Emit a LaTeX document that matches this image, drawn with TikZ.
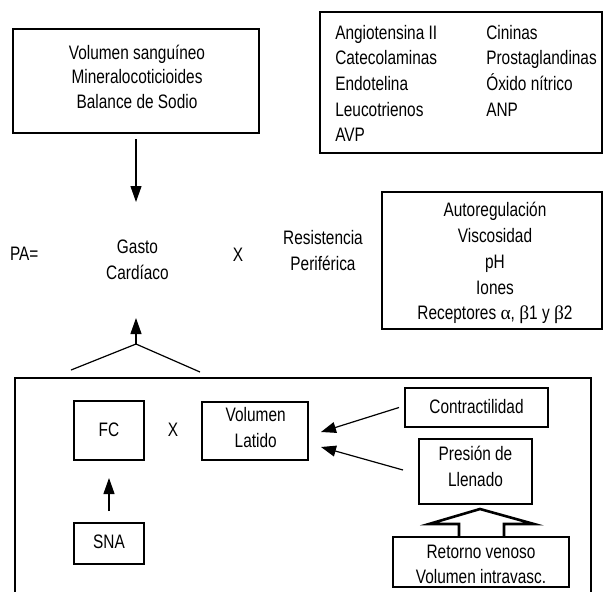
\documentclass[tikz,border=0pt]{standalone}
\usepackage{fontspec}
\setmainfont{Liberation Sans}[FakeStretch=0.79]
\newfontfamily\greekfont{Liberation Serif}
\usetikzlibrary{arrows.meta}
% centred stack of lines whose anchor "base" is the first baseline
\newcommand\stacklines[1]{\begin{tabular}[t]{@{}c@{}}#1\end{tabular}}

\begin{document}
\begin{tikzpicture}[x=1pt,y=-1pt,
  every node/.style={inner sep=0pt, outer sep=0pt, font=\fontsize{19.5}{25}\selectfont},
  lh/.style={font=\fontsize{19.5}{#1}\selectfont},
  txt/.style={anchor=base},
  box/.style={draw, line width=2.8pt, rectangle},
  frame/.style={line width=2.8pt},
  arr/.style={-{Triangle[length=16pt,width=11pt]}, line width=1.2pt},
  thin/.style={line width=1.2pt},
  hollow/.style={line width=2.6pt, line join=miter}]

\clip (0,0) rectangle (604,591);
\fill[white] (0,0) rectangle (604,591);

% ---------- upper part: the pressure equation ----------
\node[box, minimum width=246pt, minimum height=104pt] (volbox) at (136,81) {};
\node[txt, lh=24.5] (voltext) at (137,59.3)
  {\stacklines{Volumen sanguíneo\\Mineralocoticioides\\Balance de Sodio}};

\node[box, minimum width=282pt, minimum height=141pt] (agbox) at (461,82.5) {};
\node[anchor=base west, lh=25.6] (agtext) at (335.3,39.3)
  {\begin{tabular}[t]{@{}p{151pt}@{}l@{}}
     Angiotensina II & Cininas\\
     Catecolaminas   & Prostaglandinas\\
     Endotelina      & Óxido nítrico\\
     Leucotrienos    & ANP\\
     AVP             &
   \end{tabular}};

\node[anchor=base west] (pa) at (10,260) {PA=};
\node[txt, lh=26] (gasto) at (137.5,253.3) {\stacklines{Gasto\\Cardíaco}};
\node[txt] (times1) at (238,261) {X};
\node[txt, lh=26] (resist) at (323,244) {\stacklines{Resistencia\\Periférica}};

\node[box, minimum width=220pt, minimum height=137pt] (resbox) at (492,260.5) {};
\node[txt, lh=25.8] (restext) at (495,216.7)
  {\stacklines{Autoregulación\\Viscosidad\\pH\\Iones\\Receptores {\greekfont α}, {\greekfont β}1 y {\greekfont β}2}};

% arrow from the volume box into the cardiac output
\coordinate (gcTop) at (136,202);
\draw[arr] ([yshift=-6pt]volbox.south) -- (gcTop);

% fork and arrow from the lower frame up to the cardiac output
\coordinate (gcBot) at (136,318);
\coordinate (fork) at (136,344);
\coordinate (forkL) at (71,370);
\coordinate (forkR) at (200,372);
\draw[arr] (fork) -- (gcBot);
\draw[thin] (forkL) -- (fork) -- (forkR);

% ---------- lower part: determinants of cardiac output ----------
\draw[frame] (15,600) -- (15,378) -- (591,378) -- (591,600);

\node[box, minimum width=70pt, minimum height=59pt] (fcbox) at (109,430.5) {};
\node[txt] (fctext) at (109,436) {FC};
\node[txt] (times2) at (173,436) {X};
\node[box, minimum width=106pt, minimum height=58pt] (vlbox) at (255,431) {};
\node[txt, lh=25.6] (vltext) at (255.7,421.7) {\stacklines{Volumen\\Latido}};

\node[box, minimum width=70pt, minimum height=41pt] (snabox) at (109,543.5) {};
\node[txt] (snatext) at (109,548.3) {SNA};
\coordinate (fcIn) at (109,478);
\draw[arr] ([yshift=12pt]snabox.north) -- (fcIn);

\node[box, minimum width=143pt, minimum height=39pt] (contrbox) at (476.5,407.5) {};
\node[txt] (contrtext) at (476.5,413.3) {Contractilidad};

\node[box, minimum width=113pt, minimum height=65pt] (presbox) at (475.5,471.5) {};
\node[txt, lh=26.7] (prestext) at (475.5,460) {\stacklines{Presión de\\Llenado}};

\node[box, minimum width=176pt, minimum height=50pt] (retbox) at (481,562) {};
\node[txt, lh=25] (rettext) at (481,558) {\stacklines{Retorno venoso\\Volumen intravasc.}};

\coordinate (vlIn1) at (321,432);
\coordinate (vlIn2) at (321,447);
\draw[arr, -{Triangle[length=15pt,width=11pt]}] ([xshift=-6pt]contrbox.west) -- (vlIn1);
\draw[arr, -{Triangle[length=15pt,width=11pt]}] ([xshift=-16pt,yshift=1.5pt]presbox.west) -- (vlIn2);

% hollow block arrow from venous return up to filling pressure
\draw[hollow] (459,537) -- (459,524) -- (429,524) -- (480,509)
  -- (534,524) -- (504,524) -- (504,537);

\end{tikzpicture}
\end{document}
